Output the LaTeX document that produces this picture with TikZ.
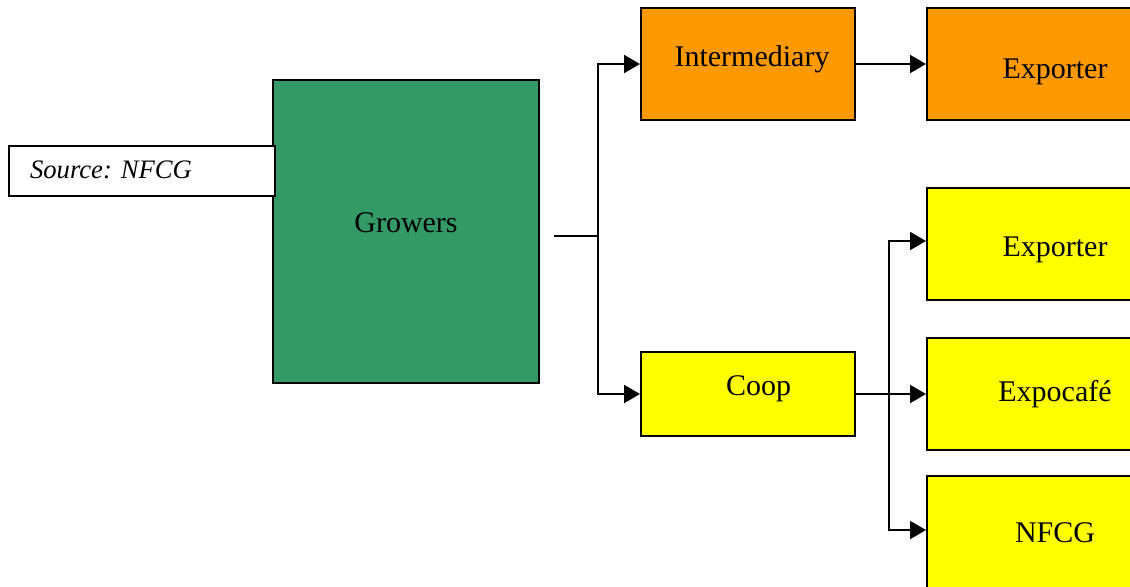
\documentclass[tikz,border=0pt]{standalone}
\usepackage{fontspec}
\setmainfont{Liberation Serif}
\usepackage{tikz}
\usetikzlibrary{arrows.meta}
\definecolor{growgreen}{HTML}{339966}
\definecolor{interorange}{HTML}{FF9900}
\definecolor{coopyellow}{HTML}{FFFF00}

\begin{document}
\begin{tikzpicture}[x=0.75pt, y=-0.75pt,
    box/.style={draw=black, line width=1.5pt, fill=#1, inner sep=0pt,
      font=\fontsize{22.5}{26}\selectfont},
    drop/.style={text depth=10pt, text height={10pt+2*#1}},
    arr/.style={line width=1.5pt, -{Triangle[length=12pt, width=13.5pt]}}]
    \useasboundingbox (0,0) rectangle (1130,586);
    \clip (0,0) rectangle (1130,586);
        % growers and source
        \node[box=growgreen, minimum width=199.5pt, minimum height=227pt, drop=1.1pt] (growers) at (406,231.5) {Growers};
        \node[box=white, minimum height=37.5pt, text width=168pt, align=left, inner xsep=15.75pt,
          font=\fontsize{20}{24}\selectfont\itshape, drop=5.5pt] (source) at (142,171) {Source:\ NFCG};
        % first level
        \node[box=interorange, minimum width=160.5pt, minimum height=84pt, drop=2pt] (inter) at (748,64) {\hspace*{6pt}Intermediary};
        \node[box=coopyellow, minimum width=160.5pt, minimum height=63pt, drop=0.75pt] (coop) at (748,394) {\hspace*{16pt}Coop};
        % exporters
        \node[box=interorange, minimum width=192pt, minimum height=84pt, drop=10.5pt] (exporter) at (1055,64) {Exporter};
        \node[box=coopyellow, minimum width=192pt, minimum height=84pt, drop=9pt] (coopexporter) at (1055,244) {Exporter};
        \node[box=coopyellow, minimum width=192pt, minimum height=84pt, drop=5.8pt] (expocafe) at (1055,394) {Expocafé};
        \node[box=coopyellow, minimum width=192pt, minimum height=84pt, drop=8pt] (nfcg) at (1055,532) {NFCG};
        % connectors
        \coordinate (gout) at (554,236);
        \coordinate (fork) at (889,394);
        \draw[arr] (gout) -- ++(44,0) |- (inter.west);
        \draw[arr] (gout) -- ++(44,0) |- (coop.west);
        \draw[arr] (inter.east) -- (exporter.west);
        \draw[arr] (coop.east) -- (expocafe.west);
        \draw[arr] (fork) |- ([yshift=2.25pt]coopexporter.west);
        \draw[arr] (fork) |- ([yshift=1.5pt]nfcg.west);
    \end{tikzpicture}
\end{document}
